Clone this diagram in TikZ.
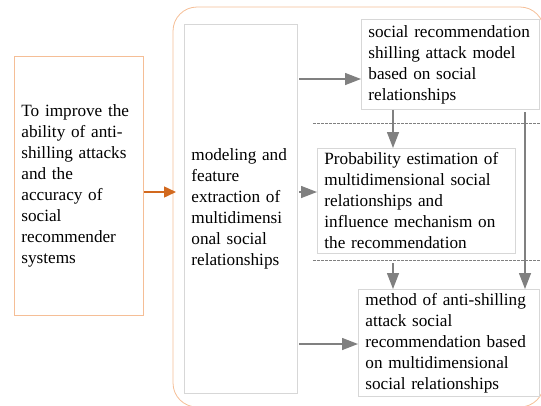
\documentclass[tikz,border=0pt]{standalone}
\usepackage{fontspec}
\setmainfont{Liberation Serif}
\usetikzlibrary{arrows.meta}

\definecolor{peach}{RGB}{245,190,150}
\definecolor{rust}{RGB}{210,105,30}
\definecolor{boxgray}{RGB}{215,215,215}
\definecolor{arrowgray}{RGB}{128,128,128}

\tikzset{
  textbox/.style={draw=boxgray, line width=0.8pt, anchor=north west, align=left,
    inner xsep=7pt, inner ysep=0pt, font=\fontsize{17.2}{21}\selectfont},
  flow/.style={arrowgray, line width=1.4pt, -{Triangle[length=16pt,width=12pt]}},
  cut/.style={arrowgray, line width=0.8pt, dash pattern=on 2.5pt off 1.5pt}
}

\begin{document}
\begin{tikzpicture}[x=1pt,y=-1pt]
\useasboundingbox (0,0) rectangle (541,405);
\clip (0,0) rectangle (541,405);

% outer frame
\draw[peach, line width=0.8pt, rounded corners=24pt] (173,7) rectangle (544,407);

% boxes
\node[textbox, draw=peach, text width=115pt, minimum height=259pt] (goal) at (14,56)
  {To improve the\\ability of anti-\\shilling attacks\\and the\\accuracy of\\social\\recommender\\systems};
\node[textbox, text width=99pt, minimum height=369pt] (feat) at (184,24)
  {modeling and\\feature\\extraction of\\multidimensi\\onal social\\relationships};
\node[textbox, text width=164pt, minimum height=90pt] (attack) at (361,19)
  {social recommendation\\shilling attack model\\based on social\\relationships};
\node[textbox, text width=184pt, minimum height=105pt] (prob) at (317,148)
  {Probability estimation of\\multidimensional social\\relationships and\\influence mechanism on\\the recommendation};
\node[textbox, text width=167pt, minimum height=107pt] (method) at (358,289)
  {method of anti-shilling\\attack social\\recommendation based\\on multidimensional\\social relationships};

% helper points
\coordinate (in) at (176,192);
\coordinate (out) at (299,0);
\coordinate (mid) at (393,0);
\coordinate (side) at (525,112);
\coordinate (below) at (393,263);

% dashed separators
\draw[cut] (313,123) -- (541,123);
\draw[cut] (313,260) -- (541,260);

% arrows
\draw[rust, line width=1.5pt, -{Triangle[length=12pt,width=11pt]}] (goal.east |- in) -- (in);
\draw[flow] (out |- 0,79) -- (attack.west |- 0,79);
\draw[flow] (out |- 0,192) -- (prob.west |- 0,192);
\draw[flow] (out |- 0,344) -- (method.west |- 0,344);
\draw[flow] (attack.south -| mid) -- (prob.north -| mid);
\draw[flow] (below) -- (method.north -| below);
\draw[flow] (side) -- (method.north -| side);

\end{tikzpicture}
\end{document}
